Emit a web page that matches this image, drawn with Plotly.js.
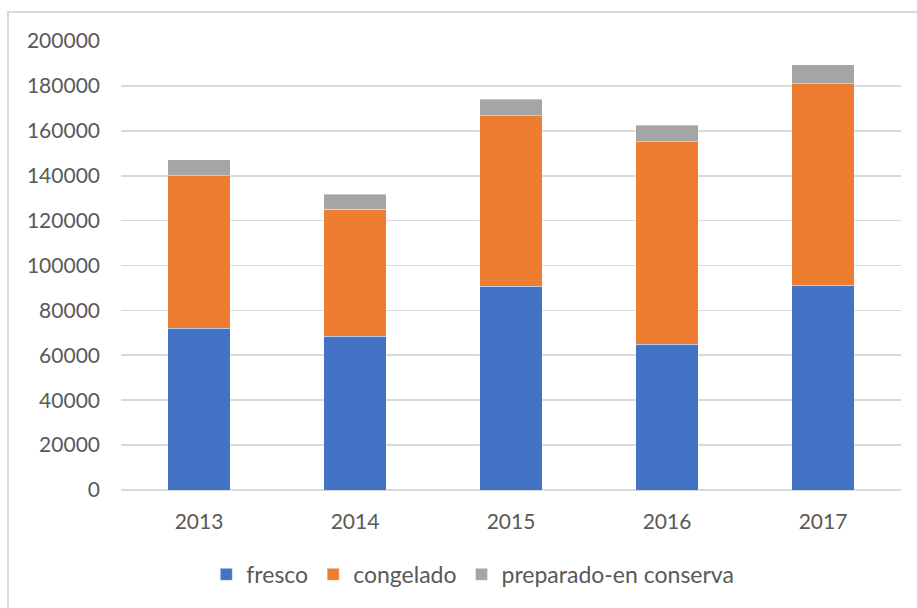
<!DOCTYPE html>
<html>
<head>
<meta charset="utf-8">
<script src="https://cdn.plot.ly/plotly-3.0.1.min.js"></script>
<style>
  html, body { margin: 0; padding: 0; background: #ffffff; }
  #frame { position: absolute; left: 7px; top: 11px; width: 920px; height: 610px; border: 2px solid #d9d9d9; box-sizing: border-box; pointer-events: none; }
  #chart { position: absolute; left: 0; top: 0; width: 917px; height: 608px; }
</style>
</head>
<body>
<div id="chart"></div>
<div id="frame"></div>
<script>
const years = ["2013", "2014", "2015", "2016", "2017"];
const fresco = [72000, 68400, 90700, 65000, 91300];
const congelado = [68000, 56700, 76100, 90200, 89600];
const preparado = [7200, 6700, 7300, 7300, 8600];
const seriesNames = ["fresco", "congelado", "preparado-en conserva"];
const seriesColors = ["#4472C4", "#ED7D31", "#A5A5A5"];
const seriesValues = [fresco, congelado, preparado];

const traces = seriesValues.map((vals, i) => ({
  type: "bar",
  name: seriesNames[i],
  x: years,
  y: vals,
  width: 0.4,
  marker: { color: seriesColors[i], line: { color: "rgba(255,255,255,0.5)", width: 0.8 } },
  hoverinfo: "x+y+name"
}));

const tickFont = { family: "Lato, 'Open Sans', sans-serif", size: 21, color: "#595959" };
const legendFont = { family: "Lato, 'Open Sans', sans-serif", size: 23, color: "#595959" };

const layout = {
  width: 917,
  height: 608,
  margin: { l: 121, r: 16, t: 41, b: 117.5 },
  barmode: "stack",
  paper_bgcolor: "#ffffff",
  plot_bgcolor: "#ffffff",
  font: tickFont,
  xaxis: {
    type: "category",
    showgrid: false,
    showline: false,
    ticks: "",
    tickfont: tickFont,
    ticklabelstandoff: 17
  },
  yaxis: {
    range: [0, 200000],
    dtick: 20000,
    tick0: 0,
    showgrid: true,
    gridcolor: "#d9d9d9",
    gridwidth: 1.6,
    zeroline: true,
    zerolinecolor: "#d9d9d9",
    zerolinewidth: 1.6,
    showline: false,
    ticks: "",
    tickformat: "d",
    tickfont: tickFont,
    ticklabelstandoff: 20
  },
  showlegend: true,
  legend: {
    orientation: "h",
    x: 0.451,
    xanchor: "center",
    y: -0.188,
    yanchor: "middle",
    font: legendFont,
    traceorder: "normal",
    itemwidth: 30
  }
};

Plotly.newPlot("chart", traces, layout, { displayModeBar: false, staticPlot: true });
</script>
</body>
</html>
